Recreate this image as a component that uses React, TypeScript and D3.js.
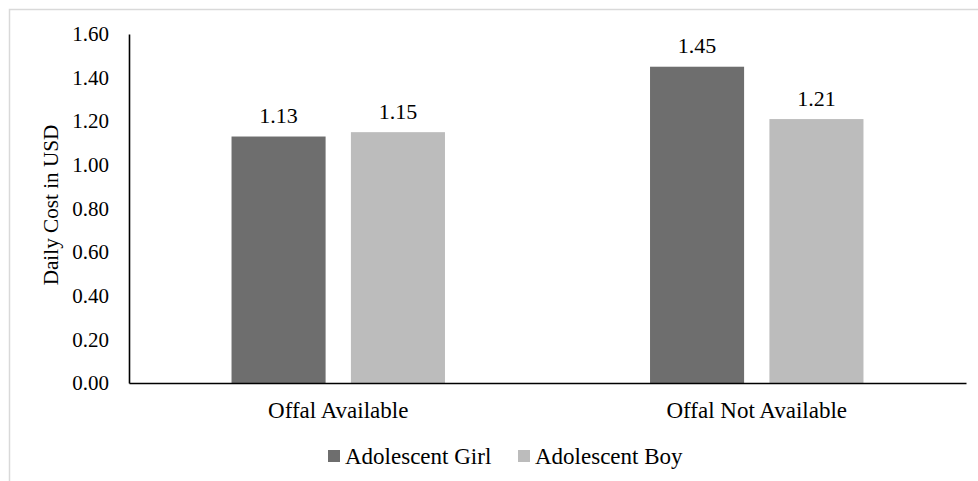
import React, { useEffect, useRef } from "react";
import * as d3 from "d3";

const categories = ["Offal Available", "Offal Not Available"];
const seriesNames = ["Adolescent Girl", "Adolescent Boy"];
const girlValues = [1.13, 1.45];
const boyValues = [1.15, 1.21];
const yTicks = [0, 0.2, 0.4, 0.6, 0.8, 1.0, 1.2, 1.4, 1.6];
const colors = ["#6e6e6e", "#bcbcbc"];

const W = 978;
const H = 481;
const FONT = "'Liberation Serif', 'Times New Roman', serif";
const FS_TICK = 21;
const FS_VAL = 22;
const FS_CAT = 23;
const FS_TITLE = 21.2;

export default function App() {
  const ref = useRef<SVGSVGElement | null>(null);

  useEffect(() => {
    const svg = d3.select(ref.current);
    svg.selectAll("*").remove();

    const left = 129;
    const right = 966;
    const top = 34;
    const bottom = 383;

    // outer frame
    svg
      .append("rect")
      .attr("x", 9.5)
      .attr("y", 9.5)
      .attr("width", 1200)
      .attr("height", 1200)
      .attr("fill", "#fff")
      .attr("stroke", "#d9d9d9")
      .attr("stroke-width", 1.5);

    const y = d3.scaleLinear().domain([0, 1.6]).range([bottom, top]);
    const x0 = d3
      .scaleBand<string>()
      .domain(categories)
      .range([left, right])
      .paddingInner(0.49)
      .paddingOuter(0.245);
    const x1 = d3
      .scaleBand<string>()
      .domain(seriesNames)
      .range([0, x0.bandwidth()])
      .paddingInner(0.212);

    const series = [girlValues, boyValues];
    const data = categories.flatMap((c, i) =>
      seriesNames.map((s, j) => ({ c, s, j, v: series[j][i] }))
    );

    const g = svg.append("g");

    // bars
    g.selectAll("rect.bar")
      .data(data)
      .join("rect")
      .attr("class", "bar")
      .attr("x", (d) => (x0(d.c) as number) + (x1(d.s) as number))
      .attr("y", (d) => y(d.v))
      .attr("width", x1.bandwidth())
      .attr("height", (d) => y(0) - y(d.v))
      .attr("fill", (d) => colors[d.j]);

    // value labels
    g.selectAll("text.val")
      .data(data)
      .join("text")
      .attr("class", "val")
      .attr("x", (d) => (x0(d.c) as number) + (x1(d.s) as number) + x1.bandwidth() / 2)
      .attr("y", (d) => y(d.v) - 13.5)
      .attr("text-anchor", "middle")
      .attr("font-family", FONT)
      .attr("font-size", FS_VAL)
      .attr("fill", "#000")
      .text((d) => d.v.toFixed(2));

    // y axis
    const yAxis = d3
      .axisLeft(y)
      .tickValues(yTicks)
      .tickSize(0)
      .tickPadding(20)
      .tickFormat((d) => (d as number).toFixed(2));
    const ya = svg.append("g").attr("transform", `translate(${left},0)`).call(yAxis);
    ya.select(".domain").attr("stroke", "#000").attr("stroke-width", 1.6);
    ya.selectAll("text")
      .attr("font-family", FONT)
      .attr("font-size", FS_TICK)
      .attr("fill", "#000");

    // x axis
    const xAxis = d3.axisBottom(x0).tickSize(0).tickPadding(18.5);
    const xa = svg.append("g").attr("transform", `translate(0,${bottom})`).call(xAxis);
    xa.select(".domain").attr("stroke", "#000").attr("stroke-width", 1.6);
    xa.selectAll("text")
      .attr("font-family", FONT)
      .attr("font-size", FS_CAT)
      .attr("fill", "#000");

    // y axis title
    svg
      .append("text")
      .attr("transform", `translate(58,205) rotate(-90)`)
      .attr("text-anchor", "middle")
      .attr("font-family", FONT)
      .attr("font-size", FS_TITLE)
      .attr("fill", "#000")
      .text("Daily Cost in USD");

    // legend
    const legendX = [328, 518];
    const lg = svg
      .append("g")
      .selectAll("g")
      .data(seriesNames)
      .join("g")
      .attr("transform", (_, i) => `translate(${legendX[i]},0)`);
    lg.append("rect")
      .attr("x", 0)
      .attr("y", 450)
      .attr("width", 12)
      .attr("height", 12)
      .attr("fill", (_, i) => colors[i]);
    lg.append("text")
      .attr("x", 17)
      .attr("y", 463.5)
      .attr("font-family", FONT)
      .attr("font-size", FS_CAT)
      .attr("fill", "#000")
      .text((d) => d);
  }, []);

  return (
    <svg
      ref={ref}
      width={W}
      height={H}
      style={{ position: "absolute", left: 0, top: 0, background: "#fff" }}
    />
  );
}
